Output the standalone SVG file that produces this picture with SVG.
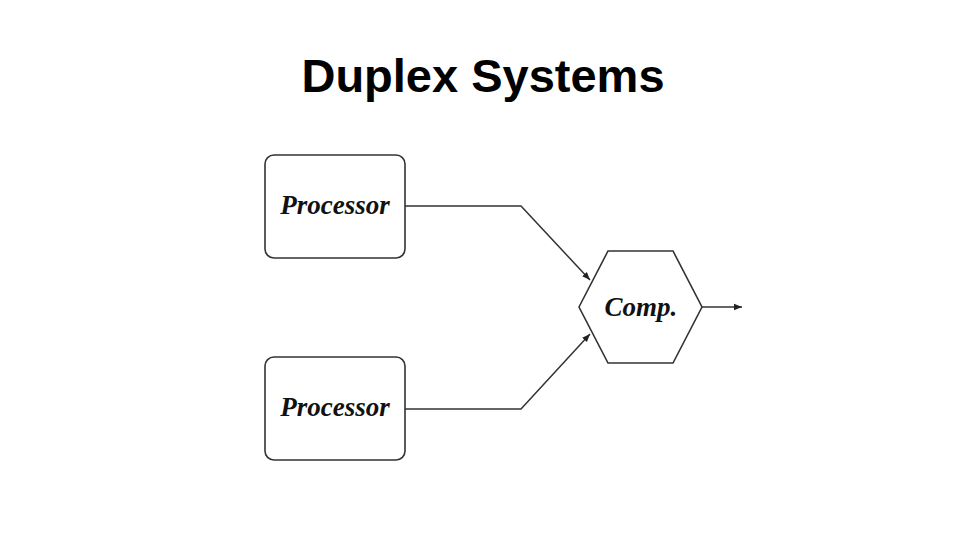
<svg xmlns="http://www.w3.org/2000/svg" width="971" height="546" viewBox="0 0 971 546">
<style>
.box{fill:#fff;stroke:#333;stroke-width:1.6}
.lbl{font-family:"Liberation Serif",serif;font-weight:bold;font-style:italic;font-size:27px;fill:#111;text-anchor:middle}
.line{fill:none;stroke:#333;stroke-width:1.5}
</style>
<defs>
<marker id="arr" viewBox="0 0 10 10" refX="10" refY="5" markerWidth="8" markerHeight="8" markerUnits="userSpaceOnUse" orient="auto">
<path d="M0,1 L10,5 L0,9 Z" fill="#222"/>
</marker>
</defs>
<rect width="971" height="546" fill="#fff"/>
<text x="483" y="92" font-family="Liberation Sans,Arial,sans-serif" font-weight="bold" font-size="47" text-anchor="middle" fill="#000">Duplex Systems</text>
<g id="connectors">
<path class="line" d="M405,206 L521,206 L590,280" marker-end="url(#arr)"/>
<path class="line" d="M405,409 L521,409 L590,334" marker-end="url(#arr)"/>
<path class="line" d="M702,307 L742,307" marker-end="url(#arr)"/>
</g>
<g id="proc1">
<rect class="box" x="265" y="155" width="140" height="103" rx="9"/>
<text class="lbl" x="335" y="214">Processor</text>
</g>
<g id="proc2">
<rect class="box" x="265" y="357" width="140" height="103" rx="9"/>
<text class="lbl" x="335" y="416">Processor</text>
</g>
<g id="comp">
<polygon class="box" points="579,307 608,251 673,251 702,307 673,363 608,363"/>
<text class="lbl" x="641" y="316">Comp.</text>
</g>
</svg>
